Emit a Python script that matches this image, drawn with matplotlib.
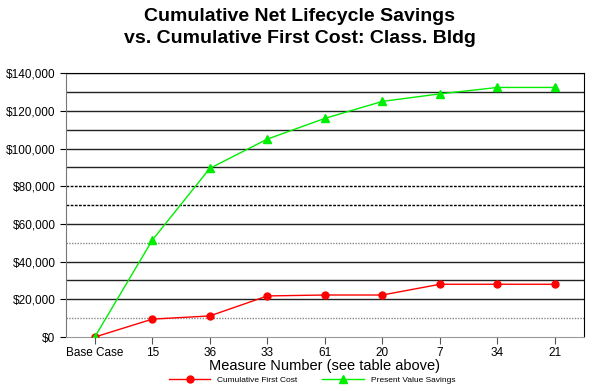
import matplotlib
matplotlib.use("Agg")
import matplotlib.pyplot as plt
from matplotlib.ticker import FuncFormatter

plt.rcParams['font.family'] = ['Liberation Sans', 'DejaVu Sans']

# data
measures = ["Base Case", "15", "36", "33", "61", "20", "7", "34", "21"]
first_cost = [0, 9500, 11200, 21800, 22300, 22300, 28000, 28000, 28000]
pv_savings = [0, 51400, 89500, 105000, 116000, 125000, 129000, 132400, 132400]

fig = plt.figure(figsize=(6, 3.91), dpi=100)
ax = fig.add_axes([0.11, 0.138, 0.863, 0.675])

x = list(range(len(measures)))

# horizontal grid, mix of solid and dotted like the original
for v in range(10000, 140001, 10000):
    if v in (10000, 50000):
        ax.axhline(v, color="#888888", lw=1, ls=(0, (1, 1)), zorder=1)
    elif v in (70000, 80000):
        ax.axhline(v, color="black", lw=1, ls=(0, (2, 1)), zorder=1)
    else:
        ax.axhline(v, color="#222222", lw=1, zorder=1)

ax.plot(x, first_cost, color="red", lw=1, marker="o", ms=5,
        label="Cumulative First Cost", zorder=3)
ax.plot(x, pv_savings, color="#00ee00", lw=1, marker="^", ms=6,
        label="Present Value Savings", zorder=3)

ax.set_xlim(-0.5, len(measures) - 0.5)
ax.set_ylim(0, 140000)
ax.set_xticks(x)
ax.set_xticklabels(measures, fontsize=8.5)
ax.set_yticks(range(0, 140001, 20000))
ax.yaxis.set_major_formatter(FuncFormatter(lambda v, p: "${:,.0f}".format(v)))
ax.tick_params(axis="y", labelsize=8.5, length=4)
ax.tick_params(axis="x", length=5, color="#555555", pad=2)

ax.spines["left"].set_color("#777777")
ax.spines["left"].set_linestyle((0, (2, 1)))
ax.spines["bottom"].set_color("#999999")
ax.spines["top"].set_color("black")
ax.spines["right"].set_color("black")

ax.set_xlabel("Measure Number (see table above)", fontsize=10.5, labelpad=0)

fig.suptitle("Cumulative Net Lifecycle Savings\nvs. Cumulative First Cost: Class. Bldg",
             fontsize=14, fontweight="bold", y=0.98, x=0.5, linespacing=1.4)

fig.legend(loc="lower center", ncol=2, fontsize=6, frameon=False,
           bbox_to_anchor=(0.52, 0.0), handlelength=5, columnspacing=3)

fig.savefig("out.png", dpi=100)
